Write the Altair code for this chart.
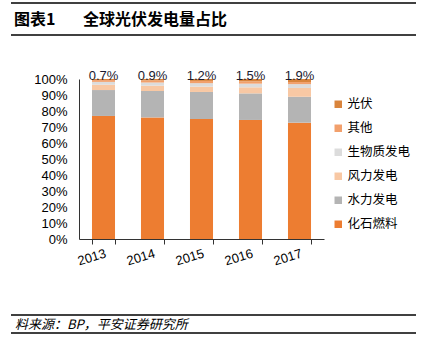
import altair as alt
import pandas as pd

years = ["2013", "2014", "2015", "2016", "2017"]
series = ["化石燃料", "水力发电", "风力发电", "生物质发电", "其他", "光伏"]
fossil = [76.9, 76.0, 75.0, 74.4, 72.7]
hydro = [16.2, 16.5, 16.9, 16.6, 16.2]
wind = [3.3, 3.3, 3.3, 3.8, 5.5]
biomass = [1.8, 2.0, 2.2, 2.3, 2.4]
other = [1.1, 1.3, 1.4, 1.4, 1.3]
solar = [0.7, 0.9, 1.2, 1.5, 1.9]
solar_labels = ["0.7%", "0.9%", "1.2%", "1.5%", "1.9%"]
colors = ["#ED7D31", "#B4B4B4", "#F8C8A4", "#DCDCDC", "#F2A06C", "#D9843C"]
y_ticks = [0, 10, 20, 30, 40, 50, 60, 70, 80, 90, 100]

values = [fossil, hydro, wind, biomass, other, solar]
rows = []
for si, s in enumerate(series):
    for yi, yr in enumerate(years):
        rows.append({"year": yr, "series": s, "value": values[si][yi], "idx": si})
df = pd.DataFrame(rows)

lab_df = pd.DataFrame({"year": years, "label": solar_labels, "value": [100] * 5})

NUM_FONT = "Liberation Sans"
CJK_FONT = "Noto Sans CJK SC"

legend_domain = list(reversed(series))
legend_range = list(reversed(colors))

x_scale = alt.Scale(paddingInner=0.53, paddingOuter=0.265)
x_axis = alt.Axis(labelAngle=-17, labelFont=NUM_FONT, labelFontSize=13,
                  labelColor="#000000", tickBand="extent", tickSize=5,
                  tickColor="#333333", domainColor="#333333",
                  labelPadding=3, grid=False, labelOverlap=False)
y_scale = alt.Scale(domain=[0, 100], nice=False)
y_axis = alt.Axis(values=y_ticks, labelExpr="datum.value + '%'",
                  labelFont=NUM_FONT, labelFontSize=13, labelColor="#000000",
                  ticks=False, domainColor="#333333", labelPadding=12,
                  grid=False, labelOverlap=False, labelFlush=False,
                  labelBound=False)

bars = alt.Chart(df).mark_bar().encode(
    x=alt.X("year:N", sort=years, title=None, scale=x_scale, axis=x_axis),
    y=alt.Y("value:Q", stack="zero", title=None, scale=y_scale, axis=y_axis),
    color=alt.Color("series:N", sort=legend_domain,
                    scale=alt.Scale(domain=legend_domain, range=legend_range),
                    legend=alt.Legend(title=None, orient="none", legendX=253, legendY=19,
                                      symbolType="square", symbolSize=56,
                                      symbolStrokeWidth=0, labelFont=CJK_FONT,
                                      labelFontSize=12.5, labelColor="#000000",
                                      rowPadding=11, labelOffset=3, padding=0)),
    order=alt.Order("idx:Q", sort="ascending"),
)

labels = alt.Chart(lab_df).mark_text(
    font=NUM_FONT, fontSize=13, color="#1a1a2e", baseline="alphabetic", dy=1
).encode(
    x=alt.X("year:N", sort=years, title=None, scale=x_scale, axis=x_axis),
    y=alt.Y("value:Q", title=None, scale=y_scale, axis=y_axis),
    text="label:N",
)

one = pd.DataFrame({"a": [0]})
rules = []
for yy in [-76, -44, 236, 254]:
    rules.append(alt.Chart(one).mark_rule(color="#000000", strokeWidth=1.5).encode(
        x=alt.value(-68), x2=alt.value(337), y=alt.value(yy)))

title1 = alt.Chart(one).mark_text(
    font=CJK_FONT, fontSize=16, fontWeight="bold", align="left", baseline="middle",
    color="#000000").encode(x=alt.value(-65), y=alt.value(-59), text=alt.value("图表1"))
title2 = alt.Chart(one).mark_text(
    font=CJK_FONT, fontSize=16, fontWeight="bold", align="left", baseline="middle",
    color="#000000").encode(x=alt.value(4), y=alt.value(-59), text=alt.value("全球光伏发电量占比"))
source = alt.Chart(one).mark_text(
    font=CJK_FONT, fontSize=13, fontStyle="italic", align="left", baseline="middle",
    color="#000000").encode(x=alt.value(-64), y=alt.value(246),
                             text=alt.value("料来源：BP，平安证券研究所"))

chart = alt.layer(bars, labels, *rules, title1, title2, source).properties(
    width=245, height=160,
    autosize=alt.AutoSizeParams(type="none"),
    padding={"left": 79, "top": 79, "right": 112, "bottom": 100},
    background="#ffffff",
).configure_view(stroke=None)

chart.save("out.html", embed_options={"renderer": "svg", "actions": False})
